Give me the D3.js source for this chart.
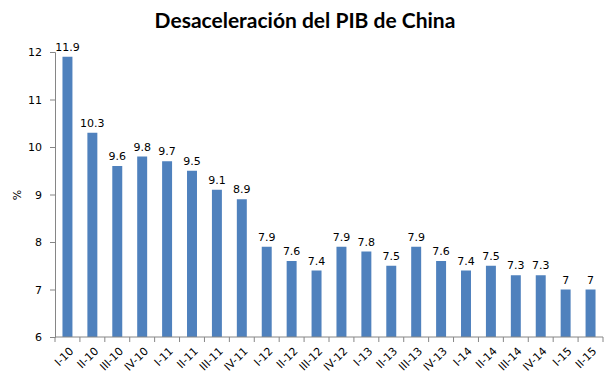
<!doctype html>
<html lang="es">
<head>
<meta charset="utf-8">
<title>Desaceleración del PIB de China</title>
<script src="https://d3js.org/d3.v7.min.js"></script>
<style>
  body { margin: 0; background: #fff; }
  text { font-family: "DejaVu Sans", Verdana, sans-serif; fill: #000; }
</style>
</head>
<body>
<svg id="chart" width="612" height="382"></svg>
<script>
// quarters and GDP growth (%)
const quarters = ["I-10","II-10","III-10","IV-10","I-11","II-11","III-11","IV-11",
  "I-12","II-12","III-12","IV-12","I-13","II-13","III-13","IV-13",
  "I-14","II-14","III-14","IV-14","I-15","II-15"];
const growth = [11.9,10.3,9.6,9.8,9.7,9.5,9.1,8.9,7.9,7.6,7.4,7.9,7.8,7.5,7.9,7.6,7.4,7.5,7.3,7.3,7,7];
const yTicks = [6,7,8,9,10,11,12];

const svg = d3.select("#chart");
const plotLeft = 55, plotRight = 603, plotTop = 52, plotBottom = 337;

const x = d3.scaleBand().domain(quarters).range([plotLeft, plotRight]).paddingInner(0.6).paddingOuter(0.3);
const y = d3.scaleLinear().domain([6, 12]).range([plotBottom, plotTop]);

svg.append("text")
  .attr("x", 305).attr("y", 28)
  .attr("text-anchor", "middle")
  .style("font-family", "Lato, 'Open Sans', sans-serif")
  .style("font-weight", "bold").style("font-size", "21px")
  .text("Desaceleración del PIB de China");

// bars
svg.selectAll("rect.bar").data(growth).enter().append("rect")
  .attr("class", "bar")
  .attr("x", (d, i) => x(quarters[i]))
  .attr("y", d => y(d))
  .attr("width", x.bandwidth())
  .attr("height", d => plotBottom - y(d))
  .attr("fill", "#4f81bd");

// value labels
svg.selectAll("text.val").data(growth).enter().append("text")
  .attr("class", "val")
  .attr("x", (d, i) => x(quarters[i]) + x.bandwidth() / 2)
  .attr("y", d => y(d) - 6)
  .attr("text-anchor", "middle")
  .style("font-size", "11px")
  .text(d => d);

// y axis
const yAxis = svg.append("g")
  .attr("transform", `translate(${plotLeft},0)`)
  .call(d3.axisLeft(y).tickValues(yTicks).tickFormat(d3.format("d")).tickSize(5).tickPadding(8));
yAxis.select(".domain").attr("stroke", "#868686");
yAxis.selectAll(".tick line").attr("stroke", "#868686");
yAxis.selectAll(".tick text").style("font-size", "11px").attr("fill", "#000")
  .style("font-family", "'DejaVu Sans', Verdana, sans-serif");

// x axis with ticks at category boundaries
const xAxis = svg.append("g").attr("transform", `translate(0,${plotBottom})`);
xAxis.append("line").attr("x1", plotLeft).attr("x2", plotRight).attr("stroke", "#868686");
xAxis.selectAll("line.tk").data(d3.range(quarters.length + 1)).enter().append("line")
  .attr("class", "tk")
  .attr("x1", i => plotLeft + i * x.step())
  .attr("x2", i => plotLeft + i * x.step())
  .attr("y1", 0).attr("y2", 5).attr("stroke", "#868686");
xAxis.selectAll("text").data(quarters).enter().append("text")
  .attr("transform", d => `translate(${x(d) + x.bandwidth() / 2 + 4},${12}) rotate(-45)`)
  .attr("text-anchor", "end")
  .attr("dy", "0.35em")
  .style("font-size", "11px")
  .text(d => d);

svg.append("text")
  .attr("transform", "translate(21,195) rotate(-90)")
  .attr("text-anchor", "middle")
  .style("font-size", "11px")
  .text("%");
</script>
</body>
</html>
